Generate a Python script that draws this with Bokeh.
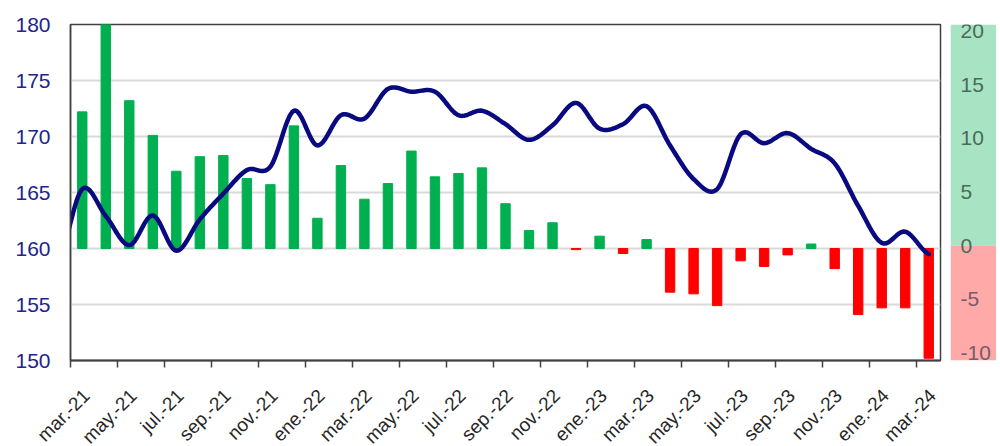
import math
from bokeh.plotting import figure
from bokeh.models import Range1d, FixedTicker, ColumnDataSource
from bokeh.layouts import row, column
from bokeh.embed import file_html
from bokeh.resources import INLINE
from bokeh.core.properties import value

# ---------------- data ----------------
months = ["mar.-21", "abr.-21", "may.-21", "jun.-21", "jul.-21", "ago.-21", "sep.-21",
          "oct.-21", "nov.-21", "dic.-21", "ene.-22", "feb.-22", "mar.-22", "abr.-22",
          "may.-22", "jun.-22", "jul.-22", "ago.-22", "sep.-22", "oct.-22", "nov.-22",
          "dic.-22", "ene.-23", "feb.-23", "mar.-23", "abr.-23", "may.-23", "jun.-23",
          "jul.-23", "ago.-23", "sep.-23", "oct.-23", "nov.-23", "dic.-23", "ene.-24",
          "feb.-24", "mar.-24"]

# variation (right axis)
change = [12.2, 20.0, 13.2, 10.1, 6.9, 8.2, 8.3, 6.25, 5.7, 10.95, 2.7, 7.4, 4.4, 5.8,
          8.7, 6.4, 6.7, 7.2, 4.0, 1.6, 2.3, -0.1, 1.1, -0.45, 0.8, -3.9, -4.05, -5.1,
          -1.1, -1.6, -0.57, 0.4, -1.8, -5.9, -5.3, -5.3, -9.8]

# level (left axis); first value is feb.-21, just outside the plot
level_prev = 159.0
level = [165.3, 162.9, 160.3, 162.95, 159.8, 162.6, 164.9, 167.0, 167.3, 172.3, 169.2,
         171.9, 171.6, 174.25, 174.0, 174.0, 171.9, 172.3, 171.1, 169.7, 171.0, 173.0,
         170.7, 171.1, 172.7, 169.2, 166.2, 165.3, 170.2, 169.4, 170.3, 168.9, 167.6,
         163.8, 160.5, 161.5, 159.5]

left_ticks = [150, 155, 160, 165, 170, 175, 180]
right_ticks = [20, 15, 10, 5, 0, -5, -10]

FONT = "Liberation Sans"
n = len(months)

# layout constants (pixels)
BL, BR, BT = 70, 10, 24          # main frame borders
FW, FH = 870, 336                # main frame size
TOP_H = 368                      # height of the upper row
LAB_H = 446 - TOP_H              # height of the label strip
W_MAIN = BL + FW + BR

# ---------------- main figure ----------------
p = figure(width=W_MAIN, height=TOP_H, output_backend="svg", toolbar_location=None,
           x_range=Range1d(0, n), y_range=Range1d(150, 180),
           min_border_left=BL, min_border_right=BR, min_border_top=BT,
           min_border_bottom=TOP_H - BT - FH)
p.extra_y_ranges = {"chg": Range1d(-10, 20)}
p.outline_line_color = "#404040"
p.outline_line_width = 1.5
p.background_fill_color = "white"
p.border_fill_color = "white"

p.xgrid.visible = False
p.ygrid.ticker = FixedTicker(ticks=[155, 160, 165, 170, 175])
p.ygrid.grid_line_color = "#d9d9d9"
p.ygrid.grid_line_width = 2

# left axis
ya = p.yaxis[0]
ya.ticker = FixedTicker(ticks=left_ticks)
ya.axis_line_color = "#404040"
ya.axis_line_width = 1.5
ya.major_tick_line_color = None
ya.minor_tick_line_color = None
ya.major_tick_out = 0
ya.major_label_standoff = 20
ya.major_label_text_color = "#23238e"
ya.major_label_text_font = FONT
ya.major_label_text_font_size = "21px"

# bottom axis: only tick marks at category boundaries
xa = p.xaxis[0]
bounds = [float(i) for i in range(0, n, 2)]
xa.ticker = FixedTicker(ticks=[], minor_ticks=bounds)
xa.major_tick_line_color = None
xa.major_tick_out = 0
xa.major_tick_in = 0
xa.major_label_standoff = 0
xa.minor_tick_line_color = "#404040"
xa.minor_tick_line_width = 1.5
xa.minor_tick_out = 7
xa.minor_tick_in = 0
xa.axis_line_color = "#404040"
xa.axis_line_width = 2

# bars
xs = [i + 0.5 for i in range(n)]
colors = ["#00b050" if v >= 0 else "#ff0000" for v in change]
bar_src = ColumnDataSource(dict(x=xs, top=change, color=colors))
p.vbar(x="x", top="top", bottom=0, width=0.4, color="color", source=bar_src,
       y_range_name="chg")

# smoothed line (Catmull-Rom through the monthly points)
px = [-0.5] + xs
py = [level_prev] + level
m = len(px)
sx, sy = [], []
steps = 16
for k in range(m - 1):
    p0 = py[k - 1] if k > 0 else py[k]
    p1 = py[k]
    p2 = py[k + 1]
    p3 = py[k + 2] if k + 2 < m else py[k + 1]
    for s in range(steps):
        t = s / steps
        t2, t3 = t * t, t * t * t
        yv = 0.5 * ((2 * p1) + (-p0 + p2) * t + (2 * p0 - 5 * p1 + 4 * p2 - p3) * t2
                    + (-p0 + 3 * p1 - 3 * p2 + p3) * t3)
        sx.append(px[k] + (px[k + 1] - px[k]) * t)
        sy.append(yv)
sx.append(px[-1])
sy.append(py[-1])
p.line(sx, sy, line_color="#0a0a80", line_width=4.5, line_cap="round",
       line_join="round")

# ---------------- right band with secondary labels ----------------
unit_px = FH / 30.0
r_top = 17
r = figure(width=46, height=TOP_H, output_backend="svg", toolbar_location=None,
           x_range=Range1d(0, 1),
           y_range=Range1d(-10 - (TOP_H - BT - FH) / unit_px,
                           20 + (BT - r_top) / unit_px),
           x_axis_location=None, y_axis_location=None,
           min_border_left=0, min_border_right=0, min_border_top=r_top,
           min_border_bottom=0)
r.outline_line_color = None
r.grid.visible = False
r.background_fill_color = "white"
r.border_fill_color = "white"
r.quad(left=0, right=1, bottom=0, top=r.y_range.end, color="#a8e4c4", line_color=None)
r.quad(left=0, right=1, bottom=r.y_range.start, top=0, color="#ffa9a9", line_color=None)
lab_colors = ["#4b6a5a" if v >= 0 else "#7a5a68" for v in right_ticks]
r.text(x=[0.22] * len(right_ticks), y=right_ticks, text=[str(v) for v in right_ticks],
       text_color=lab_colors, text_font=value(FONT), text_font_size="21px",
       text_align="left", text_baseline="middle")

# ---------------- category labels strip (same x scale as the main plot) ----------------
per = FW / n
q = figure(width=W_MAIN, height=LAB_H, output_backend="svg", toolbar_location=None,
           x_range=Range1d(-BL / per, n + BR / per), y_range=Range1d(-LAB_H, 0),
           x_axis_location=None, y_axis_location=None,
           min_border_left=0, min_border_right=0, min_border_top=0, min_border_bottom=0)
q.outline_line_color = None
q.grid.visible = False
q.background_fill_color = "white"
q.border_fill_color = "white"
label_idx = list(range(0, n, 2))
anchor_below_axis = 32
q.text(x=[i + 0.5 for i in label_idx],
       y=[-(anchor_below_axis - (TOP_H - BT - FH))] * len(label_idx),
       text=[months[i] for i in label_idx], angle=math.pi / 4, x_offset=4,
       text_align="right", text_baseline="middle", text_color="#262626",
       text_font=value(FONT), text_font_size="19px")

layout = column(row(p, r), q)
open("out.html", "w").write(file_html(layout, INLINE))
